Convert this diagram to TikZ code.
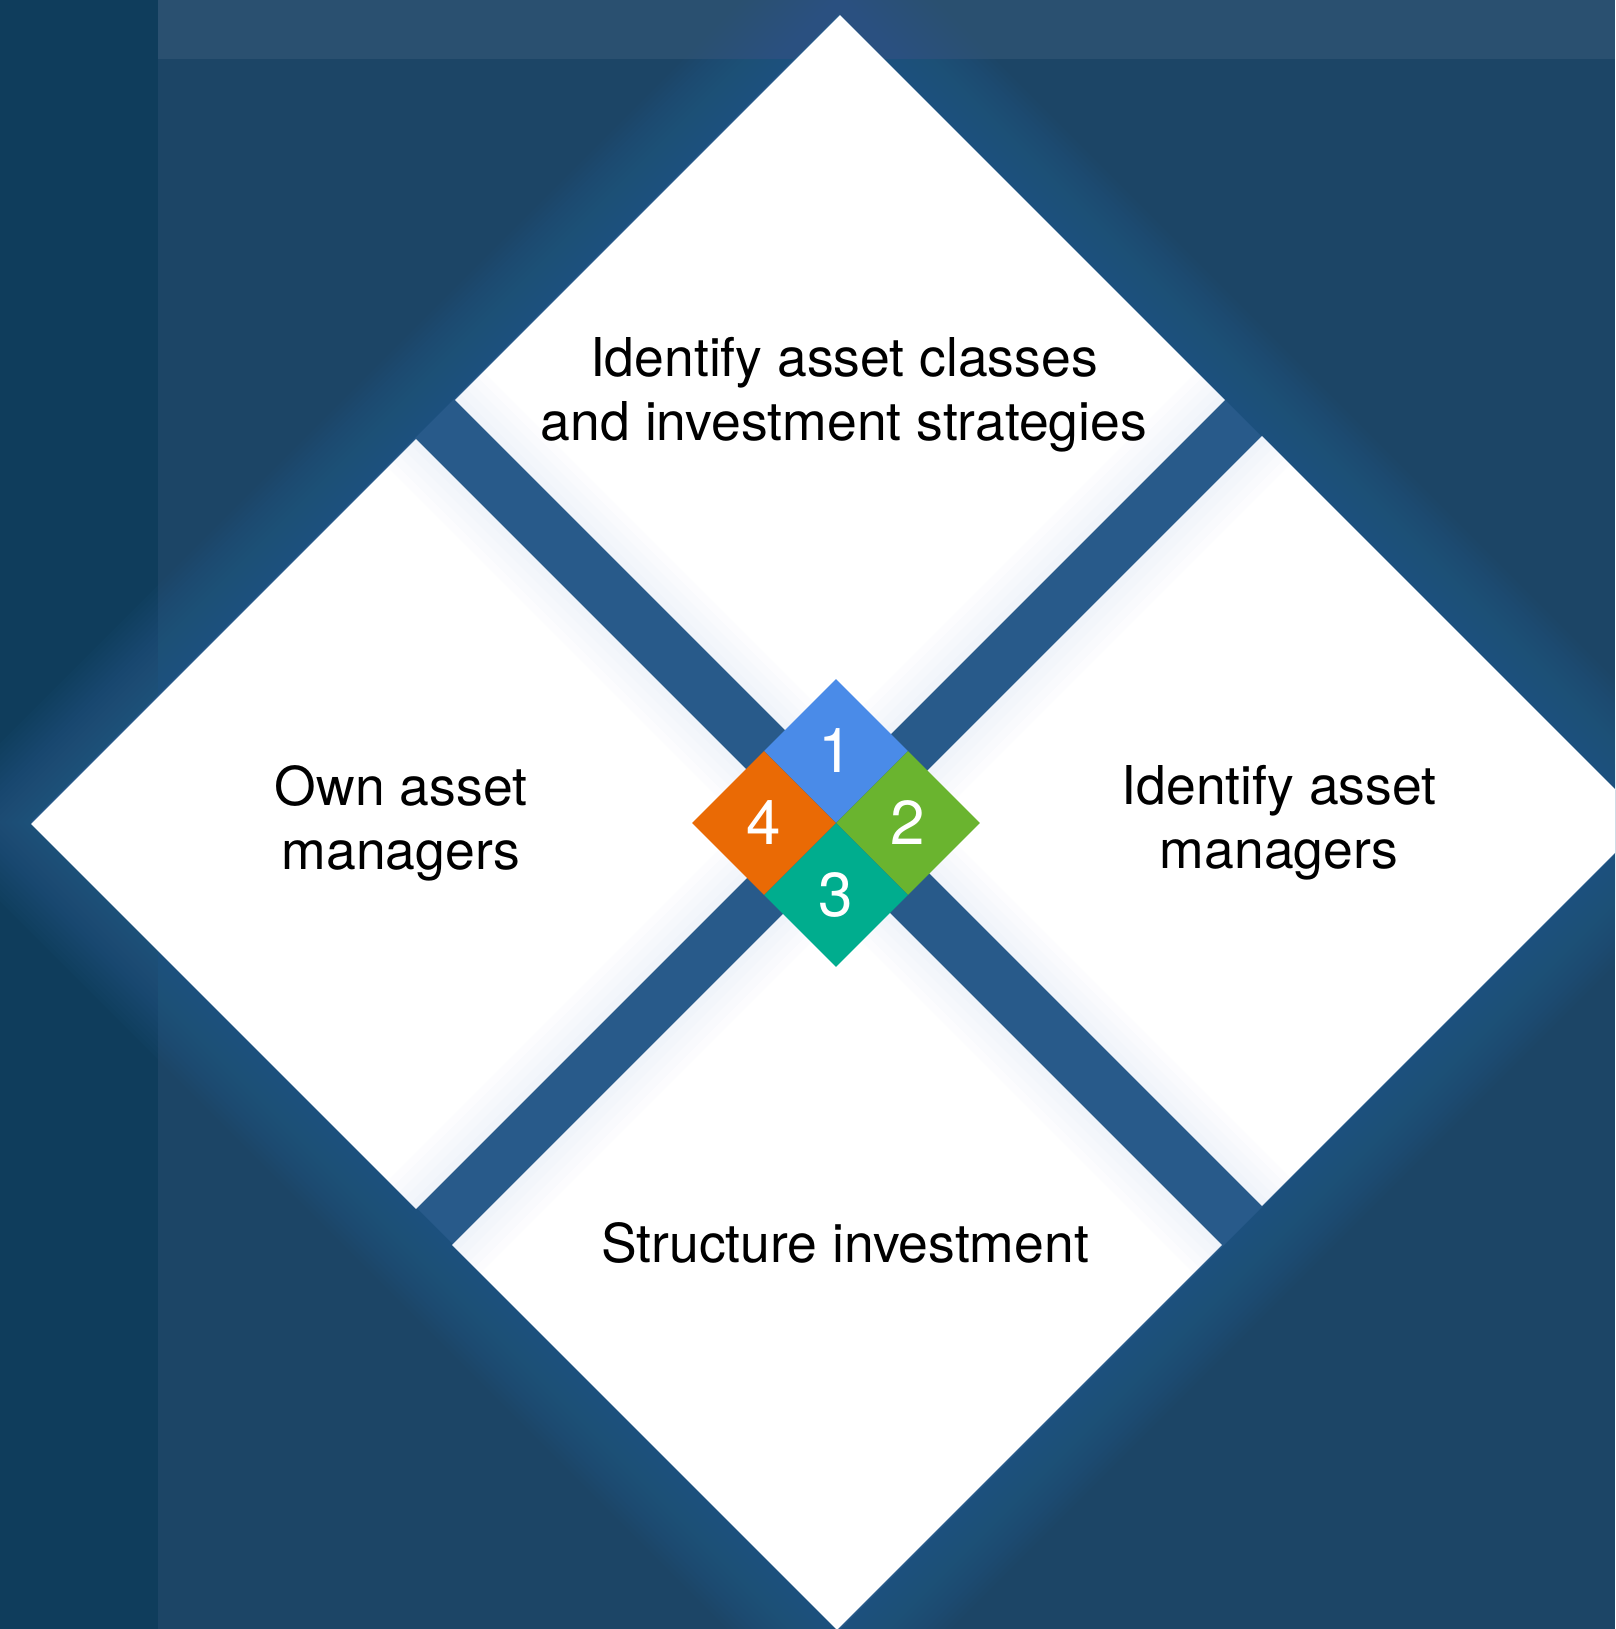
\documentclass[tikz,border=0pt]{standalone}
\usepackage{fontspec}
\setmainfont{TeX Gyre Heros}
\usetikzlibrary{shapes.geometric}
\definecolor{bgmain}{HTML}{1C4566}
\definecolor{bgleft}{HTML}{0F3D5C}
\definecolor{bgtop}{HTML}{2A5070}
\definecolor{gapblue}{HTML}{285A8A}
\definecolor{haloblue}{HTML}{2C6090}
\definecolor{tint}{HTML}{C5D5F5}
\definecolor{stepblue}{HTML}{4A8BE8}
\definecolor{stepgreen}{HTML}{6AB42F}
\definecolor{stepteal}{HTML}{00AD8E}
\definecolor{steporange}{HTML}{EA6A05}
\begin{document}
\begin{tikzpicture}[x=1pt,y=-1pt,
  card/.style={diamond, draw=none, fill=white, minimum width=770pt, minimum height=770pt, inner sep=0pt, aspect=1},
  badge/.style={diamond, draw=none, fill=#1, minimum width=144pt, minimum height=144pt, inner sep=0pt, aspect=1, text=white, font=\fontsize{62}{62}\selectfont},
  captext/.style={align=center, font=\fontsize{53.5}{64}\selectfont, text=black, inner sep=0pt},
  innerglow/.style={tint, opacity=0.05, line join=miter}
]
\useasboundingbox (0,0) rectangle (1615,1629);
\clip (0,0) rectangle (1615,1629);

% page background with side and top bands
\fill[bgmain] (0,0) rectangle (1615,1629);
\fill[bgleft] (0,0) rectangle (158,1629);
\fill[bgtop] (158,0) rectangle (1615,59);

% soft glow around the whole cluster, and the channels between the cards
\begin{scope}[shift={(839,822)}]
  \foreach \r in {110,104,...,2} {
    \fill[haloblue, opacity=0.06] ({-808-\r},0) -- (0,{-808-\r}) -- ({808+\r},0) -- (0,{808+\r}) -- cycle;
  }
  \fill[gapblue] (-808,0) -- (0,-808) -- (808,0) -- (0,808) -- cycle;
\end{scope}

% the four cards
\node[card] (c1) at (840,400) {};
\node[card] (c2) at (1262,821) {};
\node[card] (c3) at (837,1245) {};
\node[card] (c4) at (416,824) {};

% faint blue tint along the edges that face the channels
\begin{scope}
  \clip (c1.north) -- (c1.east) -- (c1.south) -- (c1.west) -- cycle;
  \foreach \w in {80,64,48,32,16} \draw[innerglow, line width=\w pt] (c1.west) -- (c1.south) -- (c1.east);
\end{scope}
\begin{scope}
  \clip (c2.north) -- (c2.east) -- (c2.south) -- (c2.west) -- cycle;
  \foreach \w in {80,64,48,32,16} \draw[innerglow, line width=\w pt] (c2.north) -- (c2.west) -- (c2.south);
\end{scope}
\begin{scope}
  \clip (c3.north) -- (c3.east) -- (c3.south) -- (c3.west) -- cycle;
  \foreach \w in {80,64,48,32,16} \draw[innerglow, line width=\w pt] (c3.west) -- (c3.north) -- (c3.east);
\end{scope}
\begin{scope}
  \clip (c4.north) -- (c4.east) -- (c4.south) -- (c4.west) -- cycle;
  \foreach \w in {80,64,48,32,16} \draw[innerglow, line width=\w pt] (c4.north) -- (c4.east) -- (c4.south);
\end{scope}

% card captions
\node[captext] (t1) at (844,395) {Identify asset classes\\and investment strategies};
\node[captext] (t2) at (1279,823) {Identify asset\\managers};
\node[captext] (t3) at (845,1243) {Structure investment};
\node[captext] (t4) at (401,823) {Own asset\\managers};

% numbered badges in the middle
\node[badge=stepblue] (b1) at (836,751) {1};
\node[badge=stepgreen] (b2) at (908,823) {2};
\node[badge=stepteal] (b3) at (836,895) {3};
\node[badge=steporange] (b4) at (764,823) {4};
\end{tikzpicture}
\end{document}
